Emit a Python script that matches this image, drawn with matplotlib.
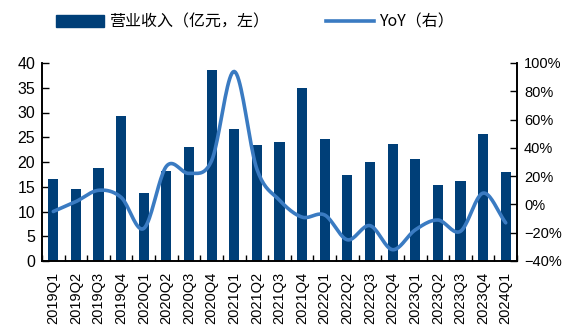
import numpy as np
import matplotlib
matplotlib.use("Agg")
import matplotlib.pyplot as plt
from matplotlib.patches import Patch
from matplotlib.lines import Line2D

plt.rcParams['font.family'] = ['Liberation Sans', 'Noto Sans CJK SC', 'DejaVu Sans']

quarters = ['2019Q1', '2019Q2', '2019Q3', '2019Q4', '2020Q1', '2020Q2', '2020Q3',
            '2020Q4', '2021Q1', '2021Q2', '2021Q3', '2021Q4', '2022Q1', '2022Q2',
            '2022Q3', '2022Q4', '2023Q1', '2023Q2', '2023Q3', '2023Q4', '2024Q1']
revenue = [16.5, 14.6, 18.7, 29.2, 13.8, 18.2, 23.0, 38.6, 26.7, 23.4, 24.0,
           35.0, 24.6, 17.3, 20.1, 23.7, 20.7, 15.3, 16.2, 25.6, 18.0]
yoy = [-5, 2, 10, 5, -17, 27, 22, 31, 94, 25, 3, -9, -7.5, -25, -15, -32,
       -18, -11, -19, 8, -13]

bar_color = '#003f78'
line_color = '#3a7bc2'


def smooth(x, y, n=20):
    # catmull-rom style smoothing like office charts
    x = np.asarray(x, float)
    y = np.asarray(y, float)
    px = np.concatenate([[2 * x[0] - x[1]], x, [2 * x[-1] - x[-2]]])
    py = np.concatenate([[2 * y[0] - y[1]], y, [2 * y[-1] - y[-2]]])
    xs, ys = [], []
    t = np.linspace(0, 1, n, endpoint=False)
    for i in range(1, len(px) - 2):
        p0, p1, p2, p3 = py[i - 1], py[i], py[i + 1], py[i + 2]
        ys.append(0.5 * ((2 * p1) + (-p0 + p2) * t + (2 * p0 - 5 * p1 + 4 * p2 - p3) * t ** 2
                         + (-p0 + 3 * p1 - 3 * p2 + p3) * t ** 3))
        xs.append(px[i] + (px[i + 1] - px[i]) * t)
    xs.append([x[-1]])
    ys.append([y[-1]])
    return np.concatenate(xs), np.concatenate(ys)


fig = plt.figure(figsize=(5.68, 3.29), dpi=100)
ax = fig.add_axes([42 / 568, 68 / 329, 475 / 568, 198 / 329])
ax2 = ax.twinx()

x = np.arange(len(quarters))
ax.bar(x, revenue, width=0.45, color=bar_color, zorder=2)
sx, sy = smooth(x, yoy)
ax2.plot(sx, sy, color=line_color, lw=2.6, solid_capstyle='round')

ax.set_xlim(-0.5, len(quarters) - 0.5)
ax.set_ylim(0, 40)
ax.set_yticks(np.arange(0, 41, 5))
ax2.set_ylim(-40, 100)
ax2.set_yticks(np.arange(-40, 101, 20))
ax2.set_yticklabels([f'{v}%'.replace('-', '−') for v in range(-40, 101, 20)])

ax.set_xticks(x)
ax.set_xticklabels(quarters, rotation=90)
ax.set_xticks(np.arange(-0.5, len(quarters), 1), minor=True)
ax.tick_params(axis='x', which='major', length=0, labelsize=10.5, pad=8)
ax.tick_params(axis='x', which='minor', length=4, direction='in', width=1)
ax.tick_params(axis='y', direction='in', length=5, width=1, labelsize=11.5, pad=5)
ax2.tick_params(axis='y', direction='in', length=5, width=1, labelsize=10.5, pad=5)

for a in (ax, ax2):
    a.spines['top'].set_visible(False)
    for s in ('left', 'right', 'bottom'):
        a.spines[s].set_linewidth(1.2)

handles = [Patch(color=bar_color), Line2D([0], [0], color=line_color, lw=2.6)]
fig.legend(handles, ['营业收入（亿元，左）', 'YoY（右）'], ncol=2, loc='center',
           bbox_to_anchor=(0.449, 0.933), frameon=False,
           handlelength=3.0, handleheight=0.7, columnspacing=3.6, handletextpad=0.3,
           prop={'family': ['Noto Sans CJK SC'], 'size': 11.5})

fig.savefig('out.png', dpi=100)
